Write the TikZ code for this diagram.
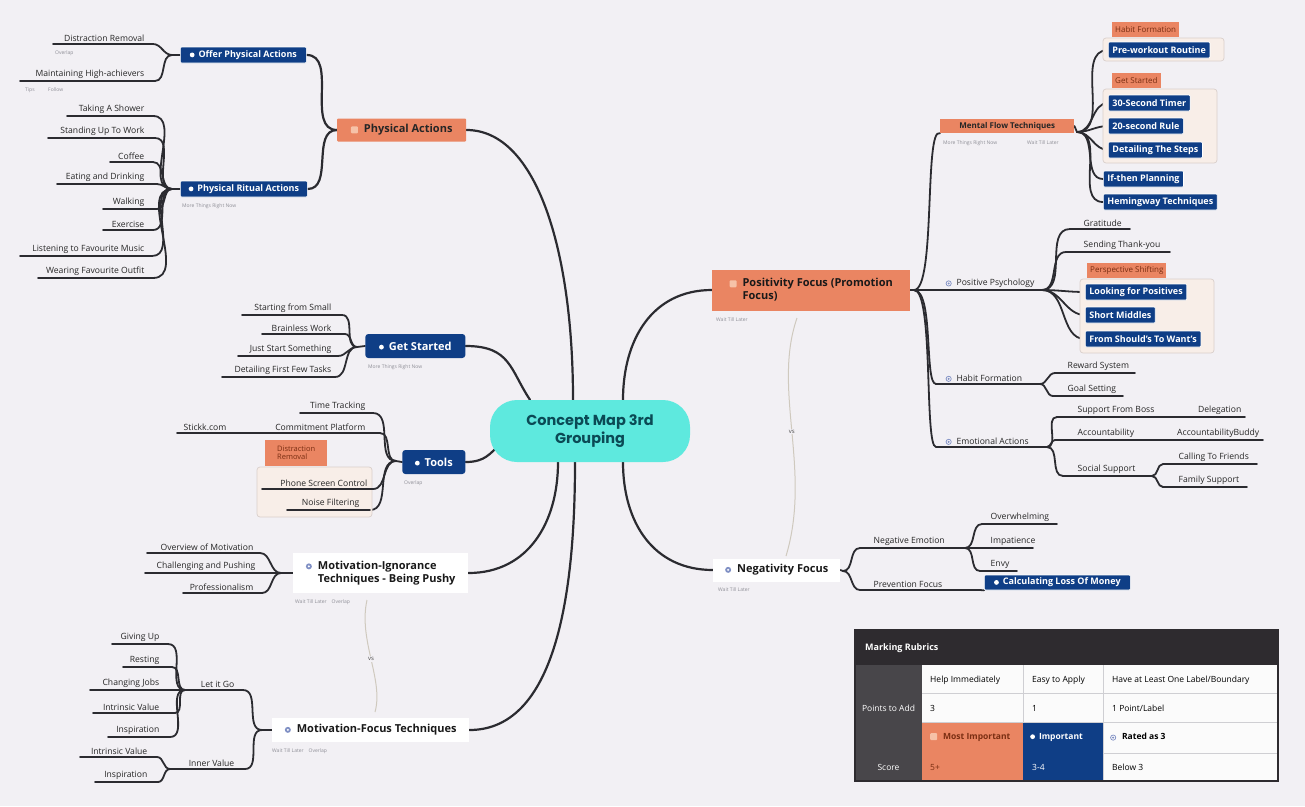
\documentclass[tikz,border=0pt]{standalone}
\usepackage{fontspec}
\setmainfont{Open Sans}
\newfontfamily\titlefont{Poppins}
\pgfdeclarelayer{bglayer}
\pgfdeclarelayer{edgelayer}
\pgfsetlayers{bglayer,edgelayer,main}
\definecolor{bgc}{HTML}{F2F0F4}
\definecolor{lnc}{HTML}{2B2B30}
\definecolor{blu}{HTML}{0F3E86}
\definecolor{org}{HTML}{EA8562}
\definecolor{orgl}{HTML}{F6C2A8}
\definecolor{odark}{HTML}{7A2E12}
\definecolor{cyn}{HTML}{5EE9DE}
\definecolor{ttl}{HTML}{0B4A55}
\definecolor{notec}{HTML}{8E8E96}
\definecolor{frm}{HTML}{F8EEE8}
\definecolor{frmd}{HTML}{D9CFCB}
\definecolor{vsc}{HTML}{CFC9BE}
\definecolor{tdark}{HTML}{2E2B2F}
\definecolor{tgray}{HTML}{48464A}
\definecolor{icn}{HTML}{7F8FC4}
\definecolor{gridc}{HTML}{CFCFD3}
\tikzset{
  bbox/.style={fill=blu, text=white, draw=white, line width=0.7pt, rounded corners=1pt, font=\fontsize{9}{10}\selectfont\bfseries, inner xsep=4pt, inner ysep=0pt, minimum height=16pt, anchor=west},
  bigblue/.style={bbox, font=\fontsize{11}{12}\selectfont\bfseries, minimum height=24pt, inner xsep=7pt, rounded corners=3pt, draw=none},
  olab/.style={fill=org, text=odark, font=\fontsize{8}{9}\selectfont, inner xsep=3pt, inner ysep=0pt, minimum height=15pt, anchor=west},
  leaf/.style={font=\fontsize{8.6}{10}\selectfont, text=black!85, inner sep=0.5pt},
  ul/.style={draw=lnc, line width=1.8pt, line cap=round},
  br/.style={draw=lnc, line width=1.8pt, line cap=round},
  mainbr/.style={draw=lnc, line width=2.2pt, line cap=round},
  note/.style={font=\fontsize{5}{6}\selectfont, text=notec, inner sep=0pt, anchor=west},
  fram/.style={draw=frmd, fill=frm, rounded corners=3pt, line width=0.7pt},
  vsl/.style={draw=vsc, line width=1pt},
  wbox/.style={fill=white, text=black!90, font=\fontsize{11}{13}\selectfont\bfseries, inner xsep=6pt, anchor=west, align=left},
  tt/.style={font=\fontsize{8.5}{10}\selectfont, inner sep=0pt, anchor=west},
}
\newcommand\wdot{\tikz[baseline=-0.5ex]\fill[white] (0,0) circle (2.4pt);}
\newcommand\sqicon{\tikz[baseline=-0.5ex]\fill[orgl, rounded corners=1pt] (-3.5pt,-3.5pt) rectangle (3.5pt,3.5pt);}
\newcommand\cicon{\tikz[baseline=-0.5ex]{\draw[icn, line width=0.7pt] (0,0) circle (2.6pt); \fill[icn] (0,0) circle (1.1pt);}}
\newcommand\gdot{\tikz[baseline=-0.5ex]{\fill[icn] (0,0) circle (3pt); \fill[white] (0,0) circle (1.2pt);}}
\newcommand\leafL[6]{%
  \coordinate (#1L) at (#2,#4);
  \coordinate (#1R) at (#3,#4);
  \draw[ul] (#1L) -- (#1R);
  \node[leaf, anchor=south east] (#1) at (#5,#4-1.5) {#6};}
\newcommand\leafR[6]{%
  \coordinate (#1L) at (#2,#4);
  \coordinate (#1R) at (#3,#4);
  \draw[ul] (#1L) -- (#1R);
  \node[leaf, anchor=south west] (#1) at (#5,#4-1.5) {#6};}
\begin{document}
\begin{tikzpicture}[x=1pt,y=-1pt]
\useasboundingbox (0,0) rectangle (1305,806);
\begin{pgfonlayer}{bglayer}
\fill[bgc] (0,0) rectangle (1305,806);
\end{pgfonlayer}

% ---------- centre ----------
\node[fill=cyn, rounded corners=27pt, minimum width=200pt, minimum height=62pt, inner sep=0pt, font=\titlefont\bfseries\fontsize{14.5}{17.5}\selectfont, text=ttl, align=center] (C) at (590,431) {Concept Map 3rd\\Grouping};

% ---------- Physical Actions ----------
\node[fill=org, text=black!85, font=\fontsize{11}{12}\selectfont\bfseries, minimum width=129pt, minimum height=23pt, inner sep=0pt, rounded corners=1pt, anchor=west] (PA) at (337,130) {\sqicon\hspace{6pt}Physical Actions};
\node[bbox, minimum width=126pt] (OPA) at (180,55) {\wdot\hspace{4pt}Offer Physical Actions};
\node[bbox, minimum width=127pt] (PRA) at (180,189) {\wdot\hspace{4pt}Physical Ritual Actions};
\node[note] (nPRA) at (182,206) {More Things Right Now};
\coordinate (hOPA) at (172,55);
\coordinate (hPRA) at (172,189);
\leafL{DR}{53}{153}{44}{145}{Distraction Removal}
\node[note] (nDR) at (55,53) {Overlap};
\leafL{MH}{20}{155}{81}{145}{Maintaining High-achievers}
\node[note] (nMH1) at (25,90) {Tips};
\node[note] (nMH2) at (48,90) {Follow};
\leafL{TS}{67}{153}{116}{145}{Taking A Shower}
\leafL{SU}{48}{155}{138}{145}{Standing Up To Work}
\leafL{CF}{110}{153}{162}{145}{Coffee}
\leafL{ED}{57}{157}{184}{145}{Eating and Drinking}
\leafL{WK}{103}{157}{209}{145}{Walking}
\leafL{EX}{103}{153}{230}{145}{Exercise}
\leafL{LM}{20}{152}{256}{145}{Listening to Favourite Music}
\leafL{WO}{38}{153}{278}{145}{Wearing Favourite Outfit}

% ---------- Get Started ----------
\node[bigblue, minimum width=100pt] (GS) at (365,346) {\wdot\hspace{5pt}Get Started};
\node[note] (nGS) at (368,367) {More Things Right Now};
\coordinate (hGS) at (357,347);
\leafL{SS}{242}{342}{315}{332}{Starting from Small}
\leafL{BW}{262}{345}{334}{332}{Brainless Work}
\leafL{JS}{238}{338}{356}{332}{Just Start Something}
\leafL{DF}{222}{335}{377}{332}{Detailing First Few Tasks}

% ---------- Tools ----------
\node[bigblue, minimum width=63pt] (TL) at (402,462) {\wdot\hspace{5pt}Tools};
\node[note] (nTL) at (404,483) {Overlap};
\coordinate (hTL) at (396,461);
\draw[fram] (257,467) rectangle (372,517);
\node[olab, align=left, minimum width=62pt, minimum height=26pt, font=\fontsize{7.5}{8.5}\selectfont] (DRb) at (265,453) {Distraction\\Removal};
\leafL{TT}{300}{373}{413}{366}{Time Tracking}
\leafL{CP}{177}{380}{433}{366}{Commitment Platform}
\node[leaf, anchor=south west] (STK) at (183,431.5) {Stickk.com};
\leafL{PS}{262}{373}{489}{368}{Phone Screen Control}
\leafL{NFL}{287}{370}{510}{360}{Noise Filtering}

% ---------- Motivation-Ignorance ----------
\node[wbox, minimum width=175pt, minimum height=40pt] (MI) at (293,573) {\gdot\hspace{6pt}Motivation-Ignorance\\\hspace*{12pt}Techniques - Being Pushy};
\node[note] (nMI) at (295,602) {Wait Till Later\quad Overlap};
\coordinate (hMI) at (281,573);
\leafL{OM}{147}{260}{553}{254}{Overview of Motivation}
\leafL{CH}{145}{270}{573}{256}{Challenging and Pushing}
\leafL{PR}{183}{262}{593}{254}{Professionalism}

% ---------- Motivation-Focus ----------
\node[wbox, minimum height=24pt, minimum width=197pt] (MF) at (272,730) {\gdot\hspace{6pt}Motivation-Focus Techniques};
\node[note] (nMF) at (272,751) {Wait Till Later\quad Overlap};
\coordinate (hMF) at (262,730);
\leafL{LG}{185}{243}{690}{235}{Let it Go}
\leafL{IV}{170}{245}{769}{235}{Inner Value}
\leafL{GU}{112}{168}{644}{160}{Giving Up}
\leafL{RS}{123}{172}{667}{160}{Resting}
\leafL{CJ}{90}{182}{690}{160}{Changing Jobs}
\leafL{IVa}{93}{175}{713}{160}{Intrinsic Value}
\leafL{INa}{108}{170}{737}{160}{Inspiration}
\leafL{IVb}{80}{157}{757}{148}{Intrinsic Value}
\leafL{INb}{95}{158}{782}{148}{Inspiration}

% ---------- Positivity Focus ----------
\node[fill=org, text=black!90, font=\fontsize{11}{13}\selectfont\bfseries, align=left, minimum width=198pt, minimum height=41pt, inner xsep=7pt, anchor=west] (PF) at (712,290) {\sqicon\hspace{6pt}Positivity Focus (Promotion\\\hspace*{13pt}Focus)};
\node[note] (nPF) at (716,320) {Wait Till Later};
\coordinate (hPF) at (914,290);

\node[fill=org, text=black!85, font=\fontsize{8}{9}\selectfont\bfseries, minimum width=134pt, minimum height=14pt, inner sep=0pt, anchor=west] (MFT) at (940,126) {Mental Flow Techniques};
\node[note] (nMFT1) at (943,143) {More Things Right Now};
\node[note] (nMFT2) at (1027,143) {Wait Till Later};
\coordinate (hMFT) at (1077,132);
\node[olab] (HFlab) at (1112,29) {Habit Formation};
\draw[fram] (1103,38) rectangle (1224,61);
\node[bbox] (PW) at (1108,50) {Pre-workout Routine};
\node[olab] (GSlab) at (1112,80) {Get Started};
\draw[fram] (1103,89) rectangle (1217,163);
\node[bbox] (T30) at (1108,103) {30-Second Timer};
\node[bbox] (R20) at (1108,126) {20-second Rule};
\node[bbox] (DS) at (1108,150) {Detailing The Steps};
\node[bbox] (IT) at (1103,179) {If-then Planning};
\node[bbox] (HT) at (1103,202) {Hemingway Techniques};

\leafR{PP}{914}{1042}{290}{945}{\cicon\hspace{5pt}Positive Psychology}
\leafR{GR}{1070}{1130}{229}{1083}{Gratitude}
\leafR{ST}{1066}{1170}{252}{1083}{Sending Thank-you}
\node[olab] (PSlab) at (1087,270) {Perspective Shifting};
\draw[fram] (1080,279) rectangle (1214,353);
\node[bbox] (LP) at (1085,292) {Looking for Positives};
\node[bbox] (SM) at (1085,315) {Short Middles};
\node[bbox] (FS) at (1085,339) {From Should's To Want's};

\leafR{HF}{936}{1040}{384}{945}{\cicon\hspace{5pt}Habit Formation}
\leafR{RW}{1055}{1135}{373}{1067}{Reward System}
\leafR{GL}{1053}{1123}{396}{1067}{Goal Setting}

\leafR{EA}{936}{1047}{447}{945}{\cicon\hspace{5pt}Emotional Actions}
\leafR{SB}{1057}{1245}{417}{1077}{Support From Boss}
\node[leaf, anchor=south east] (DLG) at (1242,415.5) {Delegation};
\leafR{AC}{1055}{1263}{440}{1077}{Accountability}
\node[leaf, anchor=south east] (ACB) at (1260,438.5) {AccountabilityBuddy};
\leafR{SSP}{1063}{1152}{476}{1077}{Social Support}
\leafR{CT}{1163}{1257}{464}{1178}{Calling To Friends}
\leafR{FM}{1163}{1247}{487}{1178}{Family Support}

% ---------- Negativity Focus ----------
\node[wbox, minimum height=23pt, minimum width=127pt] (NF) at (713,570) {\gdot\hspace{6pt}Negativity Focus};
\node[note] (nNF) at (718,590) {Wait Till Later};
\coordinate (hNF) at (843,571);
\leafR{NE}{860}{965}{548}{873}{Negative Emotion}
\leafR{OW}{982}{1057}{524}{990}{Overwhelming}
\leafR{IP}{980}{1033}{548}{990}{Impatience}
\leafR{EN}{980}{1017}{571}{990}{Envy}
\leafR{PV}{860}{980}{590}{873}{Prevention Focus}
\node[bbox, minimum height=15pt, minimum width=146pt] (CL) at (984,582.5) {\wdot\hspace{4pt}Calculating Loss Of Money};

% ---------- vs links ----------
\coordinate (vsA) at (797,318);
\coordinate (vsB) at (786,556);
\coordinate (vsC) at (367,600);
\coordinate (vsD) at (375,712);

% ---------- connectors ----------
\begin{pgfonlayer}{edgelayer}
\draw[mainbr] (PA.east) .. controls +(70,0) and +(0,-150) .. ([xshift=-17pt]C.north);
\draw[mainbr] (GS.east) .. controls +(45,0) and +(-20,-30) .. ([xshift=-60pt]C.north);
\draw[mainbr] (TL.east) .. controls +(20,0) and +(-10,8) .. ([xshift=10pt,yshift=-14pt]C.west);
\draw[mainbr] (MI.east) .. controls +(60,0) and +(0,60) .. ([xshift=-32pt]C.south);
\draw[mainbr] (MF.east) .. controls +(90,0) and +(0,120) .. ([xshift=-15pt]C.south);
\draw[mainbr] (PF.west) .. controls +(-60,0) and +(0,-60) .. ([xshift=33pt]C.north);
\draw[mainbr] (NF.west) .. controls +(-60,0) and +(0,60) .. ([xshift=33pt]C.south);

\draw[vsl] (vsA) .. controls (772,390) and (812,470) .. (vsB) node[pos=0.5, fill=bgc, font=\fontsize{6}{7}\selectfont, text=black!70, inner sep=1pt] (vs1) {vs};
\draw[vsl] (vsC) .. controls (358,640) and (384,680) .. (vsD) node[pos=0.5, fill=bgc, font=\fontsize{6}{7}\selectfont, text=black!70, inner sep=1pt] (vs2) {vs};

% physical actions
\draw[mainbr] (PA.west) to[out=180,in=0] (OPA.east);
\draw[mainbr] (PA.west) to[out=180,in=0] (PRA.east);
\draw[br] (OPA.west) -- (hOPA);
\draw[br] (PRA.west) -- (hPRA);
\foreach \n in {DR,MH} \draw[br] (hOPA) to[out=180,in=0] (\n R);
\foreach \n in {TS,SU,CF,ED,WK,EX,LM,WO} \draw[br] (hPRA) to[out=180,in=0] (\n R);
% get started
\draw[br] (GS.west) -- (hGS);
\foreach \n in {SS,BW,JS,DF} \draw[br] (hGS) to[out=180,in=0] (\n R);
% tools
\draw[br] (TL.west) -- (hTL);
\foreach \n in {TT,CP,PS,NFL} \draw[br] (hTL) to[out=180,in=0] (\n R);
% MI
\draw[br] (MI.west) -- (hMI);
\foreach \n in {OM,CH,PR} \draw[br] (hMI) to[out=180,in=0] (\n R);
% MF
\draw[br] (MF.west) -- (hMF);
\foreach \n in {LG,IV} \draw[br] (hMF) to[out=180,in=0] (\n R);
\foreach \n in {GU,RS,CJ,IVa,INa} \draw[br] (LGL) to[out=180,in=0] (\n R);
\foreach \n in {IVb,INb} \draw[br] (IVL) to[out=180,in=0] (\n R);
% PF
\draw[mainbr] (PF.east) -- (hPF);
\draw[br] (hPF) .. controls (936,290) and (924,126) .. (MFT.south west);
\draw[br] (hPF) .. controls (934,290) and (924,384) .. (HFL);
\draw[br] (hPF) .. controls (934,290) and (924,447) .. (EAL);
\draw[br] (MFT.east) -- (hMFT);
\foreach \n in {PW,T30,R20,DS,IT,HT} \draw[br] (hMFT) to[out=0,in=180] (\n.west);
\foreach \n in {GR,ST} \draw[br] (PPR) to[out=0,in=180] (\n L);
\foreach \n in {LP,SM,FS} \draw[br] (PPR) to[out=0,in=180] (\n.west);
\foreach \n in {RW,GL} \draw[br] (HFR) to[out=0,in=180] (\n L);
\foreach \n in {SB,AC,SSP} \draw[br] (EAR) to[out=0,in=180] (\n L);
\foreach \n in {CT,FM} \draw[br] (SSPR) to[out=0,in=180] (\n L);
% NF
\draw[br] (NF.east) -- (hNF);
\foreach \n in {NE,PV} \draw[br] (hNF) to[out=0,in=180] (\n L);
\foreach \n in {OW,IP,EN} \draw[br] (NER) to[out=0,in=180] (\n L);
\draw[ul] (PVR) -- (CL.south west);
\end{pgfonlayer}

% ---------- table ----------
\fill[white!97!gray] (922,665) rectangle (1278,781);
\fill[tdark] (855,630) rectangle (1278,665);
\fill[tgray] (855,665) rectangle (922,781);
\fill[org] (922,722) rectangle (1023,781);
\fill[blu] (1023,722) rectangle (1103,781);
\draw[gridc, line width=0.8pt] (922,693) -- (1278,693) (922,722) -- (1278,722) (1103,753) -- (1278,753)
  (1023,665) -- (1023,722) (1103,665) -- (1103,781);
\draw[tdark, line width=1.5pt] (855,630) rectangle (1278,781);
\node[tt, font=\fontsize{9}{10}\selectfont\bfseries, text=white] (TH) at (865,648) {Marking Rubrics};
\node[tt, text=white, anchor=center] (TPA) at (888.5,708) {Points to Add};
\node[tt, text=white, anchor=center] (TSC) at (888.5,767) {Score};
\node[tt] (TC1) at (930,680) {Help Immediately};
\node[tt] (TC2) at (1032,680) {Easy to Apply};
\node[tt] (TC3) at (1112,680) {Have at Least One Label/Boundary};
\node[tt] (TV1) at (930,708) {3};
\node[tt] (TV2) at (1032,708) {1};
\node[tt] (TV3) at (1112,708) {1 Point/Label};
\node[tt, font=\fontsize{8.5}{10}\selectfont\bfseries, text=odark] (TM1) at (930,737) {\sqicon\hspace{6pt}Most Important};
\node[tt, font=\fontsize{8.5}{10}\selectfont\bfseries, text=white] (TM2) at (1030,737) {\wdot\hspace{4pt}Important};
\node[tt, font=\fontsize{8.5}{10}\selectfont\bfseries] (TM3) at (1110,737) {\cicon\hspace{6pt}Rated as 3};
\node[tt, text=odark] (TS1) at (930,767) {5+};
\node[tt, text=white] (TS2) at (1032,767) {3-4};
\node[tt] (TS3) at (1112,767) {Below 3};
\end{tikzpicture}
\end{document}
